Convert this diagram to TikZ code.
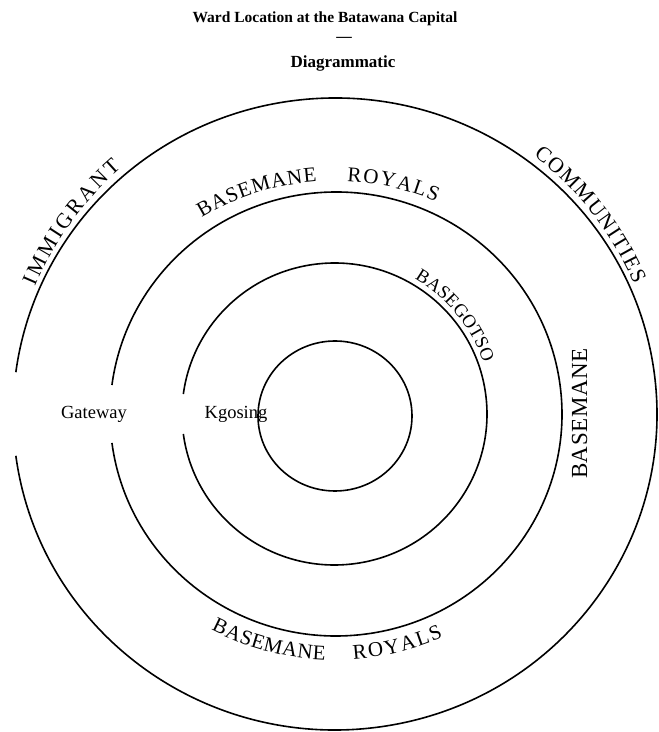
\documentclass[tikz,border=0pt]{standalone}
\usepackage{fontspec}
\setmainfont{Liberation Serif}
\usetikzlibrary{decorations.text}
\newcommand\arcfont{\fontsize{21}{21}\selectfont}
\newcommand\outerarcfont{\fontsize{21.5}{21.5}\selectfont}
\newcommand\smallarcfont{\fontsize{18.5}{18.5}\selectfont}
\newcommand\bigarcfont{\fontsize{23}{23}\selectfont}
\begin{document}
\begin{tikzpicture}[x=1pt,y=1pt,
  ring/.style={line width=1.6pt},
  curved/.style={decorate, decoration={text along path, text align=fit to path}},
  plainlabel/.style={font=\fontsize{18.5}{20}\selectfont, inner sep=0pt, anchor=base},
  titlelabel/.style={font=\bfseries\fontsize{15.5}{17}\selectfont, inner sep=0pt, anchor=base}]
\useasboundingbox[fill=white] (0,0) rectangle (659,732);
\coordinate (c) at (335,318);
\coordinate (c2) at (336,318);
\coordinate (c3) at (334.5,318);
\coordinate (ci) at (335,316);
\coordinate (ctop) at (335,292);
\coordinate (cbot) at (335,342);
% title
\node[titlelabel] (title) at (325,709) {Ward Location at the Batawana Capital};
\node[titlelabel] (dash) at (344,690) {—};
\node[titlelabel, font=\bfseries\fontsize{17}{18}\selectfont] (sub) at (343,664) {Diagrammatic};
% rings
\draw[ring] (c) ++(-172.4:322pt and 316pt) arc[start angle=-172.4, end angle=172.4, x radius=322pt, y radius=316pt];
\draw[ring] (c2) ++(-172.5:226pt and 222pt) arc[start angle=-172.5, end angle=172.5, x radius=226pt, y radius=222pt];
\draw[ring] (c3) ++(-172.4:152.5pt and 151pt) arc[start angle=-172.4, end angle=172.4, x radius=152.5pt, y radius=151pt];
\draw[ring] (ci) ellipse[x radius=77pt, y radius=75pt];
% labels
\node[plainlabel] (gw) at (94,313) {Gateway};
\node[plainlabel] (kg) at (236,313) {Kgosing};
% curved labels
\path[curved, decoration={text={|\outerarcfont|IMMIGRANT}}] (c) ++(157:326pt) arc[start angle=157, end angle=131, radius=326pt];
\path[curved, decoration={text={|\outerarcfont|COMMUNITIES}}] (c) ++(52.5:326pt) arc[start angle=52.5, end angle=23.5, radius=326pt];
\path[curved, decoration={text={|\arcfont|BASEMANE}}] (ctop) ++(121:259pt) arc[start angle=121, end angle=94, radius=259pt];
\path[curved, decoration={text={|\arcfont|ROYALS}}] (ctop) ++(87.3:259pt) arc[start angle=87.3, end angle=67, radius=259pt];
\path[curved, decoration={text={|\smallarcfont|BASEGOTSO}}] (c) ++(59.5:157pt) arc[start angle=59.5, end angle=19, radius=157pt];
\path[curved, decoration={text={|\arcfont|BASEMANE}}] (cbot) ++(242.7:270pt) arc[start angle=242.7, end angle=267.9, radius=270pt];
\path[curved, decoration={text={|\arcfont|ROYALS}}] (cbot) ++(273.9:270pt) arc[start angle=273.9, end angle=293.6, radius=270pt];
\coordinate (vb) at (587,253);
\coordinate (ve) at (587,384);
\path[curved, decoration={text={|\bigarcfont|BASEMANE}}] (vb) -- (ve);
\end{tikzpicture}
\end{document}
